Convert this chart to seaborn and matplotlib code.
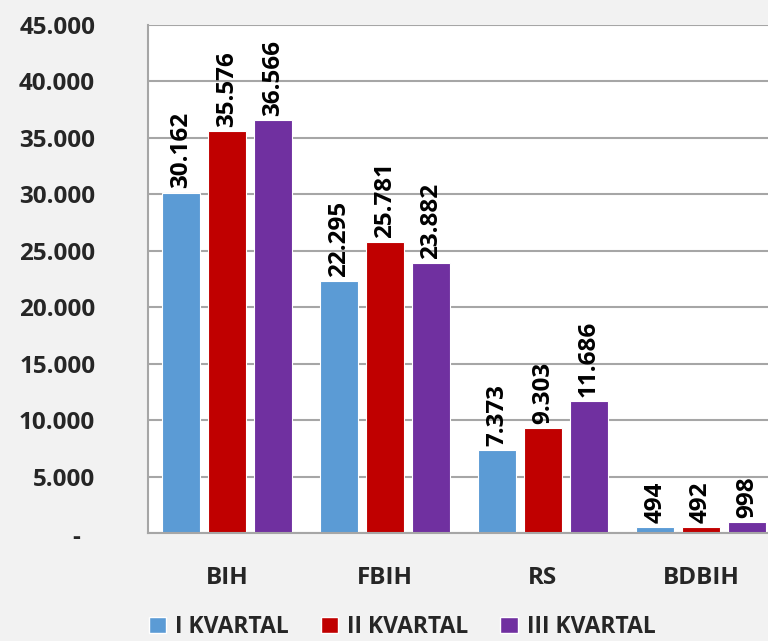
import pandas as pd
import matplotlib
matplotlib.use("Agg")
import matplotlib.pyplot as plt
import seaborn as sns
from matplotlib.patches import Patch
from matplotlib.ticker import FuncFormatter

categories = ["BIH", "FBIH", "RS", "BDBIH"]
series = ["I KVARTAL", "II KVARTAL", "III KVARTAL"]
kv1 = [30162, 22295, 7373, 494]
kv2 = [35576, 25781, 9303, 492]
kv3 = [36566, 23882, 11686, 998]
colors = ["#5B9BD5", "#C00000", "#7030A0"]

df = pd.DataFrame({
    "region": categories * 3,
    "kvartal": [s for s in series for _ in categories],
    "value": kv1 + kv2 + kv3,
})

sns.set_theme(style="white")
plt.rcParams["font.family"] = ["Open Sans", "DejaVu Sans"]
plt.rcParams["font.weight"] = "bold"
FS = 17.5

fig = plt.figure(figsize=(7.68, 6.41), dpi=100, facecolor="#f2f2f2")
ax = fig.add_axes([148 / 768, 1 - 533 / 641, 632 / 768, 508 / 641])
ax.set_facecolor("white")

sns.barplot(data=df, x="region", y="value", hue="kvartal", order=categories,
            hue_order=series, palette=colors, saturation=1, width=0.87, gap=0.17,
            edgecolor="white", linewidth=0.8, legend=False, ax=ax)

def fmt(v):
    return f"{v:,.0f}".replace(",", ".")

for cont in ax.containers:
    ax.bar_label(cont, labels=[fmt(b.get_height()) for b in cont], rotation=90,
                 padding=3, fontsize=FS, fontweight="bold", color="black")

ax.set_ylim(0, 45000)
ax.set_xlim(-0.5, 3.5)
ax.set_yticks(range(0, 45001, 5000))
# zero is shown as a dash, set a bit left of the other labels (accounting style)
ax.yaxis.set_major_formatter(FuncFormatter(lambda v, p: "" if v == 0 else fmt(v)))
ax.annotate("-", xy=(-72 / 632, 0), xycoords=ax.get_yaxis_transform(),
            xytext=(0, -5), textcoords="offset pixels", ha="center", va="center",
            fontsize=FS, fontweight="bold", color="#262626", annotation_clip=False)
ax.grid(axis="y", color="#a6a6a6", linewidth=1.5)
ax.set_axisbelow(True)
for s in ["top", "right"]:
    ax.spines[s].set_visible(False)
for s in ["left", "bottom"]:
    ax.spines[s].set_color("#a6a6a6")
    ax.spines[s].set_linewidth(1.5)
ax.tick_params(axis="y", labelsize=FS, pad=38, length=0)
ax.tick_params(axis="x", labelsize=FS, pad=24, length=0)
for t in ax.get_yticklabels() + ax.get_xticklabels():
    t.set_fontweight("bold")
ax.set_xlabel("")
ax.set_ylabel("")

handles = [Patch(facecolor=c, label=s) for c, s in zip(colors, series)]
fig.legend(handles=handles, loc="center", bbox_to_anchor=(402 / 768, 1 - 627 / 641),
           ncol=3, frameon=False, handlelength=0.75, handleheight=0.75,
           columnspacing=1.4, handletextpad=0.4, borderpad=0.1,
           prop={"weight": "bold", "size": 16.5})

fig.savefig("out.png", dpi=100, facecolor=fig.get_facecolor())
